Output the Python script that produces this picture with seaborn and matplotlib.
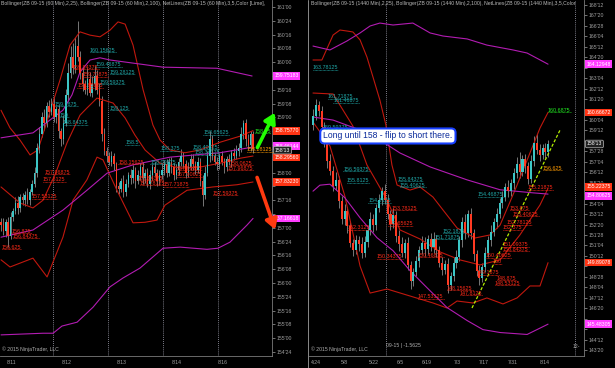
import numpy as np
import pandas as pd
import matplotlib
matplotlib.use("Agg")
import matplotlib.pyplot as plt
import seaborn as sns
from matplotlib.lines import Line2D
from matplotlib.transforms import IdentityTransform, blended_transform_factory

sns.set_theme(style="dark")
plt.rcParams['font.family'] = ['Liberation Sans', 'DejaVu Sans']

# ---------------- LEFT PANEL (60 min bars) ----------------
L_first_open = 157.10
L_close = [157.05, 156.95, 157.10, 156.85, 157.20, 157.30, 157.45, 157.35, 157.55, 157.50,
           157.60, 157.50, 157.65, 157.80, 158.00, 158.45, 158.70, 159.00, 158.90, 159.20,
           159.10, 159.25, 159.00, 159.15, 158.75, 158.60, 158.90, 159.40, 159.80, 160.10,
           159.90, 160.30, 160.10, 159.80, 159.60, 159.50, 159.70, 159.45, 159.60, 159.75,
           159.50, 159.30, 158.70, 158.40, 158.30, 158.20, 158.30, 158.15, 157.75, 157.70,
           157.85, 157.65, 157.80, 157.95, 157.90, 158.05, 157.85, 157.95, 158.10, 157.90,
           158.00, 157.80, 157.95, 158.10, 158.00, 157.85, 157.95, 158.05, 158.15, 158.00,
           158.20, 158.10, 157.95, 158.05, 158.20, 158.30, 158.15, 158.00, 158.10, 158.25,
           158.15, 158.05, 158.20, 157.85, 157.60, 158.00, 158.30, 158.60, 158.30, 158.20,
           158.15, 158.30, 158.20, 158.10, 158.25, 158.20, 158.35, 158.30, 158.40, 158.45,
           158.70, 158.90, 158.60, 158.50, 158.70, 158.42]
L_wick_up = [0.08, 0.12, 0.06, 0.10, 0.09, 0.05, 0.10, 0.12, 0.06, 0.08,
             0.07, 0.12, 0.05, 0.06, 0.10, 0.08, 0.12, 0.10, 0.15, 0.08,
             0.12, 0.10, 0.14, 0.06, 0.08, 0.05, 0.15, 0.12, 0.18, 0.20,
             0.25, 0.15, 0.45, 0.10, 0.12, 0.08, 0.20, 0.12, 0.15, 0.18,
             0.10, 0.12, 0.08, 0.10, 0.06, 0.08, 0.10, 0.06, 0.05, 0.08,
             0.06, 0.10, 0.08, 0.06, 0.12, 0.08, 0.06, 0.10, 0.07, 0.09,
             0.06, 0.08, 0.10, 0.06, 0.09, 0.07, 0.10, 0.12, 0.08, 0.10,
             0.06, 0.09, 0.08, 0.10, 0.06, 0.12, 0.08, 0.07, 0.10, 0.08,
             0.09, 0.06, 0.08, 0.06, 0.10, 0.12, 0.10, 0.15, 0.08, 0.06,
             0.08, 0.06, 0.10, 0.07, 0.05, 0.08, 0.06, 0.09, 0.10, 0.08,
             0.12, 0.06, 0.08, 0.10, 0.06, 0.05]
L_wick_dn = [0.10, 0.08, 0.12, 0.20, 0.06, 0.08, 0.05, 0.10, 0.06, 0.08,
             0.10, 0.06, 0.08, 0.05, 0.06, 0.08, 0.10, 0.06, 0.12, 0.08,
             0.10, 0.06, 0.08, 0.10, 0.12, 0.12, 0.08, 0.06, 0.10, 0.08,
             0.12, 0.10, 0.08, 0.10, 0.12, 0.08, 0.10, 0.06, 0.08, 0.10,
             0.08, 0.10, 0.12, 0.08, 0.10, 0.06, 0.08, 0.10, 0.10, 0.08,
             0.06, 0.10, 0.08, 0.06, 0.10, 0.08, 0.12, 0.06, 0.08, 0.10,
             0.08, 0.06, 0.10, 0.08, 0.06, 0.10, 0.08, 0.06, 0.10, 0.08,
             0.06, 0.10, 0.08, 0.06, 0.10, 0.08, 0.06, 0.10, 0.08, 0.06,
             0.10, 0.08, 0.06, 0.10, 0.20, 0.08, 0.06, 0.10, 0.08, 0.06,
             0.10, 0.08, 0.06, 0.10, 0.08, 0.06, 0.10, 0.08, 0.06, 0.10,
             0.08, 0.10, 0.12, 0.08, 0.10, 0.06]

# Bollinger anchors (bar index, price)
L_bands = {
    "red_up":  ([0, 3.75, 7.9, 12.1, 15.4, 18.3, 21.25, 24.6, 28.75, 32.9, 37.1, 41.25, 45.4, 48.75, 51.7, 55, 59.2, 63.3, 66.25, 70.4, 76.7, 82.9, 91.25, 99.6, 105],
                [159.13, 158.81, 158.59, 158.32, 158.41, 158.81, 159.22, 159.68, 160.31, 160.55, 160.49, 160.46, 160.58, 160.73, 160.69, 160.31, 159.50, 158.86, 158.59, 158.41, 158.36, 158.41, 158.55, 158.66, 158.76]),
    "red_mid": ([0, 7.9, 13.3, 17.5, 22.5, 27.5, 32.9, 35.8, 40, 46.7, 51.7, 55.8, 60, 66.25, 74.6, 82.9, 91.25, 99.6, 105],
                [157.74, 157.45, 157.36, 157.50, 157.96, 158.54, 159.04, 159.17, 159.35, 159.26, 158.99, 158.68, 158.41, 158.17, 158.08, 158.10, 158.17, 158.26, 158.30]),
    "red_lo":  ([0, 3.75, 13.3, 19.2, 25.8, 30, 35.8, 40, 42.5, 48.3, 55, 60, 65, 68.3, 77.5, 88.3, 98.3, 105],
                [156.42, 156.29, 156.45, 156.11, 156.83, 157.50, 157.87, 158.28, 158.23, 157.68, 157.09, 157.10, 157.14, 157.41, 157.68, 157.74, 157.78, 157.83]),
    "mag_up":  ([0, 13.3, 25.8, 29.6, 32.9, 37.1, 41.25, 45.4, 67.5, 90, 104.6],
                [158.63, 158.72, 159.13, 159.41, 159.82, 160.04, 160.08, 160.04, 159.91, 159.89, 159.75]),
    "mag_mid": ([0, 13.3, 25.8, 35.8, 44.2, 55, 70.4, 91.25, 104.6],
                [156.83, 156.96, 157.32, 157.68, 157.99, 158.14, 158.28, 158.36, 158.46]),
    "mag_lo":  ([0, 17.5, 21.7, 25.4, 31.7, 38.3, 45.4, 50.8, 57.9, 67.5, 74.6, 85.8, 90.4, 95.4, 102.5, 105],
                [155.06, 155.09, 155.09, 155.22, 155.29, 155.56, 155.93, 156.09, 156.27, 156.63, 156.65, 156.61, 156.63, 156.74, 157.05, 157.17]),
}
L_sessions = [21.67, 44.58, 67.5, 90.42]
L_dates = ["8/11", "8/12", "8/13", "8/14", "8/16"]
L_date_pos = [4.6, 27.5, 50.4, 73.3, 92.5]

L_lbl_text = ["160.15625", "159.46875", "159.28125", "159.59375", "159.125", "159.1875", "159", "158.84375",
              "158.5", "158.375", "158.65625", "158.40625", "158.34375", "158.09375",
              "159.84375", "159.71875", "159.65625", "157.96875", "157.8125", "157.53125", "156.875",
              "156.84375", "156.625", "158.15625", "157.84375", "157.78125", "157.71875", "157.96875",
              "157.90625", "157.59375", "158.0625", "157.96875",
              "158.28125", "158.75"]
L_lbl_x = [37.1, 39.6, 45.4, 41.2, 45.4, 22.5, 24.6, 25.8, 51.7, 66.3, 84.2, 80.0, 80.8, 62.1,
           30.0, 33.8, 31.7, 18.3, 17.5, 12.9, 4.6, 5.0, 0.4, 48.8, 56.7, 57.9, 67.8, 73.3, 73.3, 88.3, 95.4, 94.2,
           102.5, 105.8]
L_lbl_p = [160.22, 159.95, 159.82, 159.64, 159.17, 159.24, 159.04, 158.90, 158.54, 158.43, 158.72, 158.46, 158.36, 158.19,
           159.91, 159.77, 159.58, 158.01, 157.87, 157.56, 156.94, 156.85, 156.65, 158.19, 157.90, 157.81, 157.78, 158.08,
           157.96, 157.63, 158.17, 158.08,
           158.41, 158.75]
L_lbl_kind = ["c"] * 14 + ["r"] * 18 + ["o", "g"]

L_box_vals = [159.75183, 158.75770, 158.46144, 158.29560, 157.83230, 157.16618]
L_box_kind = ["m", "r", "m", "r", "r", "m"]
L_last = 158.40625

# ---------------- RIGHT PANEL (daily bars) ----------------
R_first_open = 159.8
R_close = [160.4, 161.2, 160.8, 159.6, 158.6, 157.2, 156.5, 155.4, 155.8, 154.3,
           153.0, 153.6, 152.5, 151.3, 150.8, 151.5, 151.2, 150.6, 151.4, 152.2,
           153.0, 152.6, 153.8, 154.4, 155.0, 154.4, 153.4, 152.7, 153.3, 151.8,
           151.2, 150.6, 151.3, 149.7, 148.6, 149.2, 150.0, 150.8, 151.3, 150.9,
           151.6, 151.0, 151.6, 150.8, 149.9, 149.4, 149.8, 148.3, 148.9, 149.9,
           150.3, 151.5, 152.8, 152.0, 153.4, 152.0, 150.5, 149.3, 148.8, 149.6,
           150.6, 151.5, 152.1, 152.8, 153.4, 154.2, 154.6, 155.3, 155.0, 155.6,
           156.3, 157.0, 156.4, 157.3, 156.8, 155.9, 157.2, 158.5, 158.0, 157.6,
           158.1, 157.8, 158.4]
R_wick_up = [0.5, 0.4, 0.3, 0.3, 0.4, 0.3, 0.5, 0.3, 0.6, 0.3,
             0.4, 0.5, 0.3, 0.4, 0.3, 0.4, 0.3, 0.5, 0.4, 0.3,
             0.5, 0.4, 0.3, 0.4, 0.3, 0.5, 0.4, 0.3, 0.5, 0.3,
             0.4, 0.5, 0.3, 0.4, 0.3, 0.3, 0.4, 0.3, 0.5, 0.4,
             0.3, 0.4, 0.5, 0.3, 0.3, 0.4, 0.3, 0.4, 0.3, 0.4,
             0.5, 0.3, 0.4, 0.6, 0.3, 0.4, 0.3, 0.3, 0.4, 0.3,
             0.4, 0.3, 0.5, 0.3, 0.4, 0.3, 0.4, 0.3, 0.5, 0.3,
             0.4, 0.5, 0.8, 0.3, 0.4, 0.3, 0.4, 0.5, 0.6, 0.4,
             0.3, 0.4, 0.3]
R_wick_dn = [0.4, 0.3, 0.4, 0.3, 0.4, 0.5, 0.3, 0.4, 0.3, 0.5,
             0.3, 0.4, 0.5, 0.3, 0.4, 0.3, 0.5, 0.4, 0.3, 0.4,
             0.3, 0.5, 0.4, 0.3, 0.4, 0.3, 0.4, 0.5, 0.3, 0.4,
             0.5, 0.3, 0.4, 0.3, 0.6, 0.4, 0.3, 0.4, 0.3, 0.5,
             0.4, 0.3, 0.4, 0.5, 0.3, 0.4, 0.3, 0.6, 0.4, 0.3,
             0.4, 0.3, 0.5, 0.4, 0.3, 0.4, 0.5, 0.4, 0.5, 0.3,
             0.4, 0.3, 0.4, 0.3, 0.4, 0.3, 0.4, 0.3, 0.4, 0.3,
             0.4, 0.3, 0.4, 0.3, 0.5, 0.4, 0.3, 0.4, 0.3, 0.4,
             0.3, 0.4, 0.3]
R_bands = {
    "red_up":  ([0, 3.1, 7, 9.4, 11.8, 13.9, 16.4, 18.8, 20.9, 23.3, 25.4, 27.5, 29.3, 33.8, 37.3, 41.8, 45.3, 50.2, 56.4, 61.7, 65.2, 70.4, 75.6, 79.1, 81.9],
                [164.43, 164.43, 166.22, 166.58, 166.51, 166.44, 165.87, 164.64, 163.21, 161.56, 159.77, 156.90, 155.46, 155.10, 155.32, 154.60, 153.67, 152.38, 151.66, 151.88, 152.59, 155.10, 157.76, 159.55, 160.67]),
    "red_mid": ([0, 7, 13.9, 18.8, 25.8, 30.3, 37.3, 44.3, 51.2, 58.2, 65.2, 72.1, 79.1, 81.9],
                [162.06, 161.99, 159.69, 156.90, 154.39, 152.24, 151.59, 150.66, 150.09, 149.73, 150.09, 151.88, 154.03, 155.22]),
    "red_lo":  ([0, 5.9, 11.1, 16.4, 19.9, 25.8, 33.8, 41.8, 46.7, 50.2, 55.7, 60.6, 66.2, 71.1, 75.6, 79.1, 81.9],
                [159.98, 158.26, 154.67, 149.65, 147.71, 148.00, 147.50, 147.00, 146.64, 147.14, 147.00, 147.36, 146.93, 147.36, 148.22, 148.22, 149.89]),
    "mag_up":  ([0, 5.9, 11.8, 16.4, 19.9, 23.3, 27.9, 34.8, 40.8, 45.3, 53.7, 60.6, 69.7, 74.6, 81.9],
                [165.43, 165.15, 165.79, 166.37, 166.87, 167.08, 166.94, 167.08, 166.37, 166.15, 165.94, 165.50, 165.15, 164.93, 164.13]),
    "mag_mid": ([0, 7, 16.4, 23.3, 30.3, 40.8, 53.7, 65.2, 76.7, 81.9],
                [160.34, 160.12, 159.41, 158.69, 157.76, 156.76, 155.83, 155.12, 154.90, 154.81]),
    "mag_lo":  ([0, 2.4, 5.9, 11.1, 16.4, 22.3, 27.9, 33.8, 39.7, 46.7, 53.7, 59.2, 65.2, 74.6, 81.9],
                [155.02, 155.45, 155.52, 154.55, 153.11, 151.68, 150.75, 149.32, 148.10, 146.67, 145.74, 145.09, 144.88, 144.74, 145.48]),
}
R_sessions = [25.4, 91.3]
R_dates = ["4/24", "5/8", "5/22", "6/5", "6/19", "7/3", "7/17", "7/31", "8/14"]
R_date_pos = [1.05, 10.8, 21.3, 30.3, 39.7, 50.2, 59.6, 69.7, 80.9]

R_lbl_text = ["163.78125", "161.71875", "161.46875", "159.59375", "156.59375", "155.8125", "155.84375", "155.40625",
              "154.3125", "154.46875", "152.1875", "151.71875",
              "153.78125", "152.65625", "152.3125", "150.34375", "150.46875", "150.40625", "150", "147.53125",
              "148.15625", "147.8125", "148.875", "148.53125", "149.1875", "151.09375", "150.84375", "153.875",
              "153.40625", "152.78125", "152.375", "155.21875",
              "156.625", "160.6875"]
R_lbl_x = [0.0, 5.2, 7.0, 3.5, 10.5, 11.8, 29.6, 30.3, 19.2, 57.5, 45.3, 42.5,
           27.5, 26.1, 12.2, 22.3, 36.6, 60.0, 62.7, 36.6, 46.7, 51.2, 64.1, 63.4, 57.1, 66.2, 66.2, 68.6,
           69.7, 67.6, 66.2, 74.6,
           80.1, 81.9]
R_lbl_p = [163.86, 161.78, 161.49, 159.62, 156.61, 155.75, 155.89, 155.46, 154.32, 154.75, 152.16, 151.73,
           153.81, 152.67, 152.38, 150.30, 150.44, 150.37, 149.94, 147.43, 148.07, 147.71, 148.79, 148.43,
           149.15, 151.16, 150.87, 153.81, 153.38, 152.74, 152.38, 155.25,
           156.68, 160.84]
R_lbl_kind = ["c"] * 12 + ["r"] * 20 + ["o", "g"]

R_box_vals = [164.12948, 160.66672, 155.22375, 154.80625, 149.89078, 145.48305]
R_box_kind = ["m", "r", "r", "m", "r", "m"]
R_last = 158.40625

# trend line (right) and arrows (left), in data units
R_trend_x = [55.4, 86.1]
R_trend_p = [146.64, 159.41]
L_arrow_up = [(106.3, 158.41), (114.6, 159.13)]
L_arrow_dn = [(106.3, 157.96), (114.6, 156.92)]
note_text = "Long until 158 - flip to short there."
note_pos = (26.1, 158.98)

# ---------------- styling ----------------
BG = "black"
GRAY = "#a0a0a0"
CYAN_BODY = "#3cc6c6"
RED_BODY = "#ff3a22"
WICK = "#8a8a8a"
LBL = {"c": "#20a8a8", "r": "#ff2a18", "o": "#ff9a00", "g": "#22ee22"}
BOXC = {"m": "#ff3cff", "r": "#ff3414"}
BAND_COL = {"red_up": "#c0180e", "red_mid": "#c0180e", "red_lo": "#c0180e",
            "mag_up": "#b21cb2", "mag_mid": "#b21cb2", "mag_lo": "#b21cb2"}

W, H = 615, 368
fig = plt.figure(figsize=(W / 100, H / 100), dpi=100, facecolor=BG)


def rect(x0, x1, y0, y1):
    return [x0 / W, 1 - y1 / H, (x1 - x0) / W, (y1 - y0) / H]


axL = fig.add_axes(rect(0, 272, 0, 356))
axR = fig.add_axes(rect(309, 584, 0, 356))


def frac32(p):
    w = int(np.floor(p + 1e-9))
    f = int(round((p - w) * 32))
    if f == 32:
        w, f = w + 1, 0
    return f"{w}'{f:02d}"


def candles(ax, first_open, close, wu, wd, width):
    c = np.array(close)
    o = np.concatenate([[first_open], c[:-1]])
    hi = np.maximum(o, c) + np.array(wu)
    lo = np.minimum(o, c) - np.array(wd)
    x = np.arange(len(c))
    ax.vlines(x, lo, hi, color=WICK, lw=0.6, zorder=2)
    cols = [CYAN_BODY if cc >= oo else RED_BODY for oo, cc in zip(o, c)]
    bottom = np.minimum(o, c)
    height = np.maximum(np.abs(c - o), 0.015)
    ax.bar(x, height, width, bottom, color=cols, linewidth=0, zorder=3)


def bands(ax, bdict):
    rows = []
    for name, (xs, ps) in bdict.items():
        for xv, pv in zip(xs, ps):
            rows.append({"x": xv, "p": pv, "band": name})
    df = pd.DataFrame(rows)
    sns.lineplot(data=df, x="x", y="p", hue="band", palette=BAND_COL, estimator=None,
                 sort=False, legend=False, lw=0.8, ax=ax, zorder=2.5)


def style(ax, xlim, ylim, yticks, dates, date_pos, sessions, boxes, tol):
    ax.set_facecolor(BG)
    ax.set_xlim(*xlim)
    ax.set_ylim(*ylim)
    for s in ["top", "left"]:
        ax.spines[s].set_visible(False)
    for s in ["right", "bottom"]:
        ax.spines[s].set_color("#7a7a7a")
        ax.spines[s].set_linewidth(0.6)
    ax.yaxis.tick_right()
    ax.set_yticks(yticks)
    labs = []
    for t in yticks:
        covered = any(abs(t - b) < tol for b in boxes)
        labs.append("" if covered else frac32(t))
    ax.set_yticklabels(labs)
    ax.set_xticks(date_pos)
    ax.set_xticklabels(dates)
    ax.tick_params(axis="both", colors=GRAY, labelsize=3.7, length=2, width=0.5, pad=1,
                   labelcolor=GRAY)
    ax.set_xlabel("")
    ax.set_ylabel("")
    ax.grid(False)
    ax.vlines(sessions, ylim[0], ylim[1], colors="#a8a8b8", linewidths=0.6,
              linestyles=[(0, (1.0, 1.5))], zorder=2.2)


def place_labels(ax, texts, xs, ps, kinds):
    out = []
    for t, xv, pv, k in zip(texts, xs, ps, kinds):
        out.append((ax.text(xv, pv, t, color=LBL[k], fontsize=3.9, ha="left", va="center", zorder=5), LBL[k]))
    return out


def axis_boxes(ax, vals, kinds, last, shifts):
    tr = blended_transform_factory(ax.transAxes, ax.transData)
    for v, k, sh in zip(vals, kinds, shifts):
        ax.text(1.01, v + sh, f"{v:.5f}", transform=tr, fontsize=3.7, color="white", va="center", ha="left",
                clip_on=False, zorder=6,
                bbox=dict(boxstyle="square,pad=0.25", fc=BOXC[k], ec="none"))
    ax.text(1.01, last, frac32(last), transform=tr, fontsize=3.7, color="white", va="center", ha="left",
            clip_on=False, zorder=7,
            bbox=dict(boxstyle="round,pad=0.25", fc="#202020", ec="#bbbbbb", lw=0.5))


# LEFT
bands(axL, L_bands)
candles(axL, L_first_open, L_close, L_wick_up, L_wick_dn, 0.6)
Lyl = (161.0 - (356 - 7) / 55.2, 161.0 + 7 / 55.2)
style(axL, (-0.42, 112.9), Lyl, np.arange(154.75, 161.01, 0.25), L_dates, L_date_pos, L_sessions,
      L_box_vals + [L_last], 0.1)
lblL = place_labels(axL, L_lbl_text, L_lbl_x, L_lbl_p, L_lbl_kind)
axis_boxes(axL, L_box_vals, L_box_kind, L_last, [0, 0, 0.02, -0.02, 0, 0])
axL.annotate("", xy=L_arrow_up[1], xytext=L_arrow_up[0], annotation_clip=False, zorder=8,
             arrowprops=dict(arrowstyle="-|>,head_length=0.5,head_width=0.3", color="#22ff00", lw=2.6))
axL.annotate("", xy=L_arrow_dn[1], xytext=L_arrow_dn[0], annotation_clip=False, zorder=8,
             arrowprops=dict(arrowstyle="-|>,head_length=0.5,head_width=0.3", color="#ff3a10", lw=2.6))

# RIGHT
bands(axR, R_bands)
candles(axR, R_first_open, R_close, R_wick_up, R_wick_dn, 0.72)
Ryl = (168.375 - (356 - 5) / 13.94, 168.375 + 5 / 13.94)
style(axR, (-1.39, 94.43), Ryl, np.arange(143.625, 168.4, 0.75), R_dates, R_date_pos, R_sessions,
      R_box_vals + [R_last], 0.4)
lblR = place_labels(axR, R_lbl_text, R_lbl_x, R_lbl_p, R_lbl_kind)
axis_boxes(axR, R_box_vals, R_box_kind, R_last, [0, 0, 0.1, -0.12, 0, 0])
sns.lineplot(x=R_trend_x, y=R_trend_p, ax=axR, color="#b4ee00", lw=0.9, ls=(0, (2.5, 1.5)), zorder=4)
axR.text(*note_pos, note_text, fontsize=6.2, color="#0a2a9a", ha="center", va="center", zorder=9,
         bbox=dict(boxstyle="round,pad=0.35,rounding_size=0.5", fc="white", ec="#1840ff", lw=1.5))

# header / footer text
fig.text(1 / W, 1 - 4 / H, "Bollinger(ZB 09-15 (60 Min),2,25), Bollinger(ZB 09-15 (60 Min),2,100), NetLines(ZB 09-15 (60 Min),3,5,Color [Lime],",
         fontsize=3.7, color="#b8b8b8", va="center", ha="left")
fig.text(311 / W, 1 - 4 / H, "Bollinger(ZB 09-15 (1440 Min),2,25), Bollinger(ZB 09-15 (1440 Min),2,100), NetLines(ZB 09-15 (1440 Min),3,5,Color",
         fontsize=3.7, color="#b8b8b8", va="center", ha="left", clip_on=True)
fig.text(2 / W, 1 - 349 / H, "© 2015 NinjaTrader, LLC", fontsize=3.7, color="#b0b0b0", va="center")
fig.text(311 / W, 1 - 349 / H, "© 2015 NinjaTrader, LLC", fontsize=3.7, color="#b0b0b0", va="center")
fig.text(386 / W, 1 - 345 / H, "09-15 | -1.5625", fontsize=3.7, color="#b0b0b0", va="center")
fig.text(573 / W, 1 - 346 / H, "12-", fontsize=3.7, color="#b0b0b0", va="center")
fig.add_artist(Line2D([307.5 / W, 307.5 / W], [0, 1], color="#8a8a8a", lw=0.7))

# dotted underline for level labels
fig.canvas.draw()
for t, col in lblL + lblR:
    bb = t.get_window_extent()
    fig.add_artist(Line2D([bb.x0, bb.x1], [bb.y0 + 0.3, bb.y0 + 0.3], transform=IdentityTransform(),
                          color=col, lw=0.6, ls=(0, (0.8, 0.8))))

fig.savefig("out.png", dpi=100, facecolor=BG)
